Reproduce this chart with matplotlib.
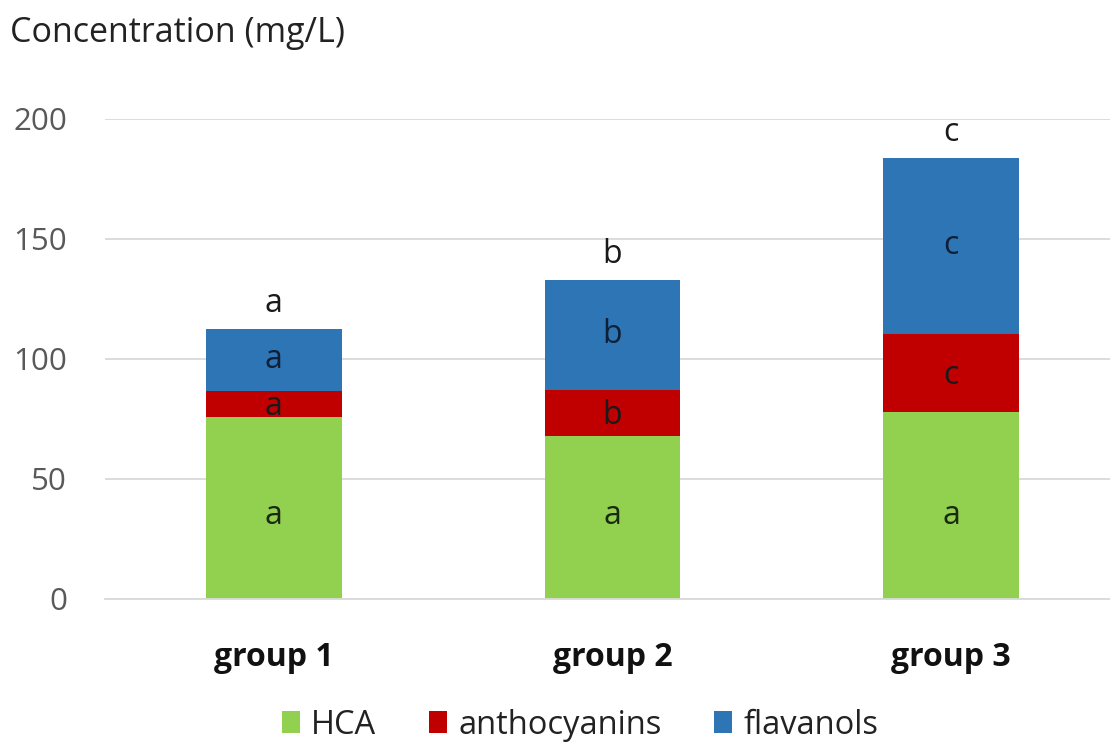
import matplotlib
matplotlib.use("Agg")
import matplotlib.pyplot as plt
import numpy as np

# data (mg/L)
groups = ["group 1", "group 2", "group 3"]
hca = [76.0, 67.9, 77.8]
anthocyanins = [10.7, 19.3, 32.5]
flavanols = [25.8, 45.7, 73.6]

hca_letters = ["a", "a", "a"]
anth_letters = ["a", "b", "c"]
flav_letters = ["a", "b", "c"]
total_letters = ["a", "b", "c"]

GREEN = "#92D050"
RED = "#C00000"
BLUE = "#2E75B6"
GRID = "#D9D9D9"
TICK = "#595959"
FONT = ["Open Sans", "DejaVu Sans"]

plt.rcParams["font.family"] = FONT

fig = plt.figure(figsize=(11.10, 7.42), dpi=100)
ax = fig.add_axes([104.5 / 1110, 1 - 599 / 742, 1016 / 1110, 480 / 742])

x = np.arange(len(groups))
w = 0.40
hca = np.array(hca)
anth = np.array(anthocyanins)
flav = np.array(flavanols)

b1 = ax.bar(x, hca, w, color=GREEN, label="HCA", zorder=2)
b2 = ax.bar(x, anth, w, bottom=hca, color=RED, label="anthocyanins", zorder=2)
b3 = ax.bar(x, flav, w, bottom=hca + anth, color=BLUE, label="flavanols", zorder=2)

LFS = 23
# letters: HCA ones sit at one height, others mid-segment, totals above
for i in range(len(groups)):
    ax.text(x[i], 35, hca_letters[i], ha="center", va="center",
            fontsize=LFS, color="#1a2a10", zorder=3)
    ax.text(x[i], hca[i] + anth[i] / 2 - 1, anth_letters[i], ha="center", va="center",
            fontsize=LFS, color="#1a1a1a", zorder=3)
    ax.text(x[i], hca[i] + anth[i] + flav[i] / 2, flav_letters[i], ha="center", va="center",
            fontsize=LFS, color="#0f1f35", zorder=3)
    tot = hca[i] + anth[i] + flav[i]
    ax.text(x[i], tot + 10.5, total_letters[i], ha="center", va="center",
            fontsize=LFS, color="#1a1a1a", zorder=3)

ax.set_xlim(-0.5, 2.5)
ax.set_ylim(0, 200)
ax.set_yticks([0, 50, 100, 150, 200])
ax.yaxis.grid(True, color=GRID, linewidth=1.3, zorder=0)
ax.set_axisbelow(True)
for s in ["top", "right", "left"]:
    ax.spines[s].set_visible(False)
ax.spines["bottom"].set_color(GRID)
ax.spines["bottom"].set_linewidth(1.3)

ax.set_xticks(x)
ax.set_xticklabels(groups, fontsize=23, fontweight="bold", color="#111111")
ax.tick_params(axis="x", length=0, pad=30)
ax.tick_params(axis="y", length=0, pad=27, labelsize=22.5, labelcolor=TICK)

fig.text(10 / 1110, 1 - 33 / 742, "Concentration (mg/L)", fontsize=24.5,
         color="#222222", ha="left", va="center")

fig.legend(handles=[b1, b2, b3], loc="center", bbox_to_anchor=(580 / 1110, 1 - 725 / 742),
           ncol=3, frameon=False, fontsize=23.5, handlelength=0.55, handleheight=0.65,
           handletextpad=0.35, columnspacing=1.6, labelcolor="#222222")

fig.savefig("out.png", dpi=100)
